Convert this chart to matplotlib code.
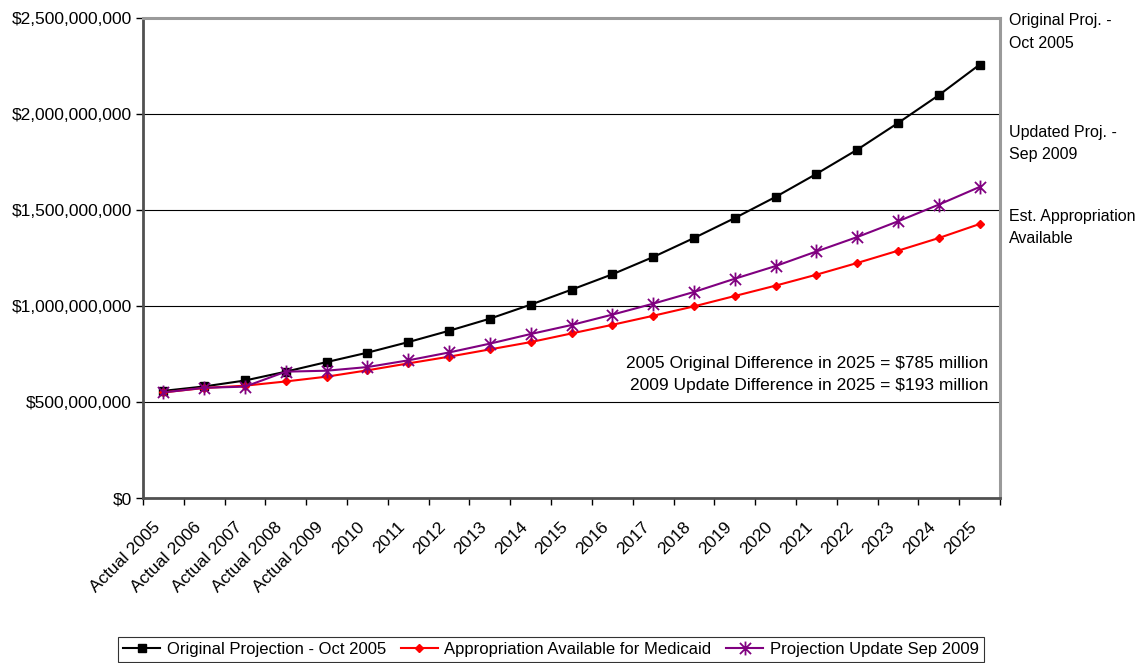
import matplotlib
matplotlib.use("Agg")
import matplotlib.pyplot as plt
from matplotlib.path import Path
from matplotlib.ticker import FuncFormatter, FixedLocator
from matplotlib.transforms import ScaledTranslation

plt.rcParams['font.family'] = ['Liberation Sans', 'DejaVu Sans']

categories = ["Actual 2005", "Actual 2006", "Actual 2007", "Actual 2008", "Actual 2009",
              "2010", "2011", "2012", "2013", "2014", "2015", "2016", "2017", "2018",
              "2019", "2020", "2021", "2022", "2023", "2024", "2025"]

# values in millions of dollars
original_2005 = [558, 581, 612, 658, 708, 757, 812, 871, 934, 1007, 1085, 1165, 1255,
                 1354, 1458, 1568, 1688, 1814, 1953, 2098, 2257]
appropriation = [550, 573, 585, 607, 632, 665, 701, 736, 774, 812, 857, 902, 949,
                 998, 1052, 1106, 1163, 1224, 1288, 1354, 1427]
update_2009 = [550, 574, 580, 658, 663, 682, 717, 758, 804, 854, 901, 955, 1012,
               1073, 1142, 1208, 1284, 1359, 1441, 1528, 1620]

y_ticks = [0, 500, 1000, 1500, 2000, 2500]

side_labels = [("Original Proj. -", "Oct 2005"), ("Updated Proj. -", "Sep 2009"),
               ("Est. Appropriation", "Available")]
notes = ["2005 Original Difference in 2025 = $785 million",
         "2009 Update Difference in 2025 = $193 million"]

W, H = 1138, 663

# asterisk marker: vertical bar plus an X
star = Path([(0, -1), (0, 1), (-0.8, -0.8), (0.8, 0.8), (-0.8, 0.8), (0.8, -0.8)],
            [Path.MOVETO, Path.LINETO, Path.MOVETO, Path.LINETO, Path.MOVETO, Path.LINETO])

fig = plt.figure(figsize=(W / 100, H / 100), dpi=100)
ax = fig.add_axes([143 / W, 1 - 498 / H, 857 / W, 480 / H])

x = list(range(len(categories)))
ax.plot(x, [v * 1e6 for v in original_2005], color='black', lw=1.5, marker='s',
        markersize=5.5, label='Original Projection - Oct 2005', zorder=3)
ax.plot(x, [v * 1e6 for v in appropriation], color='#ff0000', lw=1.5, marker='D',
        markersize=4, label='Appropriation Available for Medicaid', zorder=4)
ax.plot(x, [v * 1e6 for v in update_2009], color='#800080', lw=1.5, marker=star,
        markersize=10, markeredgewidth=1.3, label='Projection Update Sep 2009', zorder=5)

ax.set_xlim(-0.5, len(categories) - 0.5)
ax.set_ylim(0, 2.5e9)
ax.set_yticks([v * 1e6 for v in y_ticks])
ax.yaxis.set_major_formatter(FuncFormatter(lambda v, p: "${:,.0f}".format(v)))
ax.tick_params(axis='y', labelsize=12.5, length=5, width=1, direction='out', pad=3)

# tick marks between categories, labels at category centres
ax.xaxis.set_major_locator(FixedLocator([i - 0.5 for i in range(len(categories) + 1)]))
ax.xaxis.set_major_formatter(FuncFormatter(lambda v, p: ""))
ax.xaxis.set_minor_locator(FixedLocator(x))
ax.set_xticklabels(categories, minor=True)
ax.tick_params(axis='x', which='major', length=5, width=1, direction='out')
ax.tick_params(axis='x', which='minor', length=0, labelsize=12.5, pad=14)
shift = ScaledTranslation(-0.11, -0.02, fig.dpi_scale_trans)
for lbl in ax.get_xticklabels(minor=True):
    lbl.set_rotation(45)
    lbl.set_ha('right')
    lbl.set_va('top')
    lbl.set_rotation_mode('anchor')
    lbl.set_transform(lbl.get_transform() + shift)

for v in y_ticks[1:-1]:
    ax.axhline(v * 1e6, color='black', lw=0.8, zorder=1)

for side in ['left', 'bottom']:
    ax.spines[side].set_color('#505050')
    ax.spines[side].set_linewidth(2)
for side in ['top', 'right']:
    ax.spines[side].set_color('#9a9a9a')
    ax.spines[side].set_linewidth(2.2)

# labels to the right of the plot (pixel rows of each line)
side_rows = [(20, 43), (133, 154), (217, 238)]
for (l1, l2), (y1, y2) in zip(side_labels, side_rows):
    fig.text(1009 / W, 1 - y1 / H, l1, fontsize=11.5, ha='left', va='center')
    fig.text(1009 / W, 1 - y2 / H, l2, fontsize=11.5, ha='left', va='center')

for txt, yy in zip(notes, (363, 385)):
    fig.text(988 / W, 1 - yy / H, txt, fontsize=12.5, ha='right', va='center')

leg = fig.legend(loc='lower center', bbox_to_anchor=(551 / W, 1 / H), ncol=3,
                 fontsize=12, frameon=True, fancybox=False, edgecolor='black',
                 handlelength=2.2, handletextpad=0.4, columnspacing=0.9,
                 borderpad=0.3, borderaxespad=0)
leg.get_frame().set_linewidth(0.8)

fig.savefig("out.png", dpi=100)
